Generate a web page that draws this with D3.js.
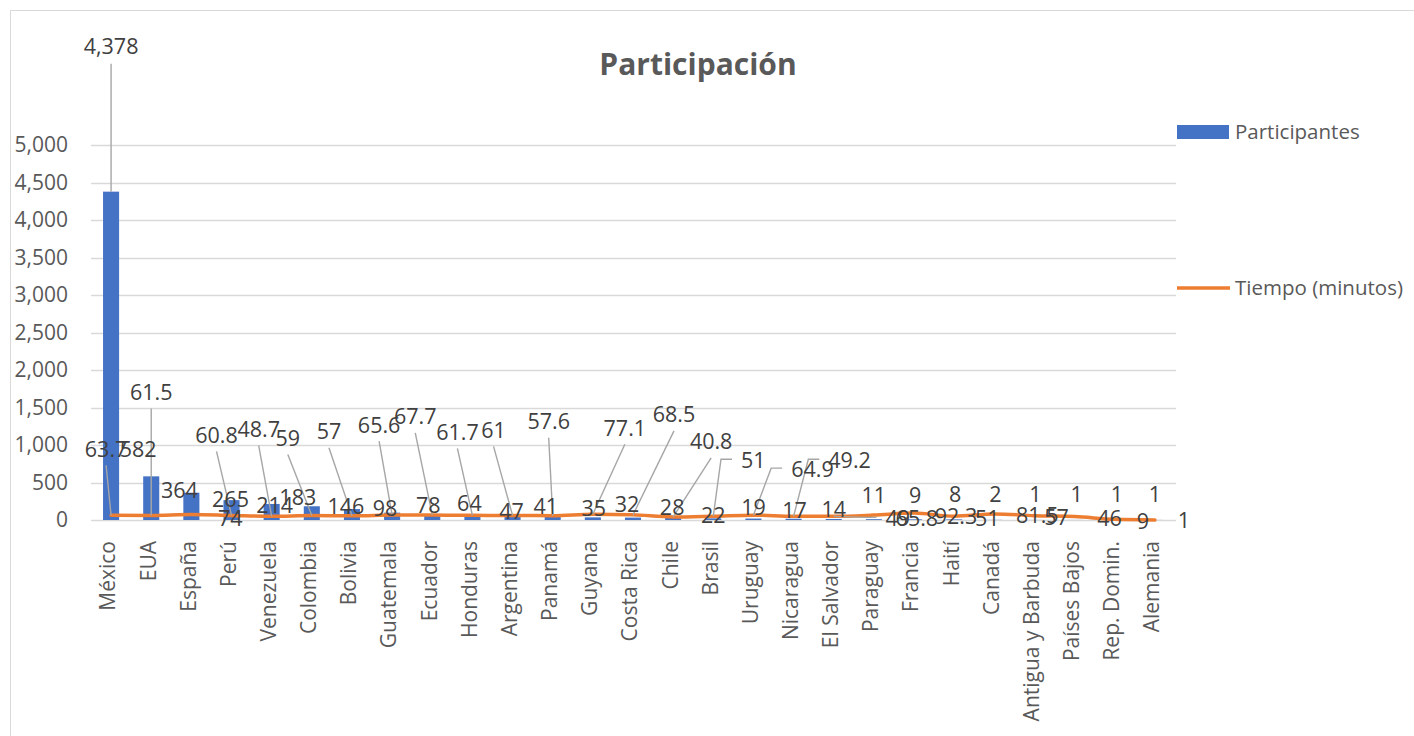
<!DOCTYPE html>
<html>
<head>
<meta charset="utf-8">
<script src="https://cdn.jsdelivr.net/npm/d3@7"></script>
<style>
  body { margin: 0; background: #fff; }
  svg text { font-family: "Open Sans", "Noto Sans", sans-serif; }
</style>
</head>
<body>
<div class="container"></div>
<script>
var categories = ["México", "EUA", "España", "Perú", "Venezuela", "Colombia", "Bolivia",
    "Guatemala", "Ecuador", "Honduras", "Argentina", "Panamá", "Guyana", "Costa Rica",
    "Chile", "Brasil", "Uruguay", "Nicaragua", "El Salvador", "Paraguay", "Francia",
    "Haití", "Canadá", "Antigua y Barbuda", "Países Bajos", "Rep. Domin.", "Alemania"];
var participantes = [4378, 582, 364, 265, 214, 183, 146, 98, 78, 64, 47, 41, 35, 32,
    28, 22, 19, 17, 14, 11, 9, 8, 2, 1, 1, 1, 1];
var tiempo = [63.7, 61.5, 74, 60.8, 48.7, 59, 57, 65.6, 67.7, 61.7, 61, 57.6, 77.1, 68.5,
    40.8, 51, 64.9, 49.2, 49, 65.8, 92.3, 51, 81.5, 57, 46, 9, 1];
var yTicks = [0, 500, 1000, 1500, 2000, 2500, 3000, 3500, 4000, 4500, 5000];
var seriesNames = ["Participantes", "Tiempo (minutos)"];

// label nudges (pixels from the data point), as the labels were dragged in the original
var barLabelShift = [[0, -145], [-13, -27], [-12, -2], [-1, -1], [3, 2], [-14, -9], [-6, -3],
    [-7, -4], [-4, -9], [-3, -12], [-1, -5], [-7, -10], [1, -9], [-6, -13], [-1, -10], [0, -3],
    [0, -11], [1, -8], [0, -9], [0, -24], [1, -24], [1, -25], [1, -25], [1, -25], [2, -25],
    [2, -25], [0, -25]];
// [dx, dy, leader]  s = straight leader, e = elbow leader
var lineLabelShift = [[-5, -66, "s"], [0, -123, "s"], [39, 4], [-15, -80, "s"], [-13, -87, "s"],
    [-24, -77, "s"], [-23, -84, "s"], [-13, -90, "s"], [-17, -98, "s"], [-15, -83, "s"],
    [-19, -85, "s"], [-4, -94, "s"], [32, -86, "s"], [41, -100, "s"], [38, -75, "s"],
    [40, -56, "e"], [59, -46, "e"], [56, -56, "e"], [64, 2, "e"], [43, 3], [42, 3], [33, 2],
    [43, 2], [22, 2], [35, 2], [28, 2], [29, 1]];

var W = 1414, H = 736;
var svg = d3.select(".container").append("svg")
    .attr("width", W)
    .attr("height", H);

svg.append("rect")
    .attr("x", 10.5).attr("y", 10.5)
    .attr("width", 1420).attr("height", 740)
    .attr("fill", "#fff")
    .attr("stroke", "#d9d9d9");

svg.append("text")
    .attr("x", 698).attr("y", 64)
    .attr("dy", "0.35em")
    .attr("text-anchor", "middle")
    .style("font-size", "30px")
    .style("font-weight", "bold")
    .attr("fill", "#595959")
    .text("Participación");

var x = d3.scaleBand()
    .domain(categories)
    .range([91, 1175])
    .paddingInner(0.6)
    .paddingOuter(0.3);

var y = d3.scaleLinear()
    .domain([0, 5000])
    .range([520, 145]);

var cx = function (i) { return x(categories[i]) + x.bandwidth() / 2; };

// gridlines
svg.append("g")
    .selectAll("line")
    .data(yTicks)
    .enter().append("line")
    .attr("x1", 91).attr("x2", 1176)
    .attr("y1", function (d) { return Math.round(y(d)) + 0.5; })
    .attr("y2", function (d) { return Math.round(y(d)) + 0.5; })
    .attr("stroke", "#d9d9d9")
    .attr("stroke-width", 1.3);

// y axis labels
svg.append("g")
    .selectAll("text")
    .data(yTicks)
    .enter().append("text")
    .attr("x", 68)
    .attr("y", function (d) { return y(d); })
    .attr("dy", "0.35em")
    .attr("text-anchor", "end")
    .attr("fill", "#595959")
    .style("font-size", "21px")
    .text(d3.format(","));

// x axis labels
svg.append("g")
    .selectAll("text")
    .data(categories)
    .enter().append("text")
    .attr("transform", function (d, i) { return "translate(" + (cx(i) - 3) + ",541) rotate(-90)"; })
    .attr("dy", "0.35em")
    .attr("text-anchor", "end")
    .attr("fill", "#595959")
    .style("font-size", "21px")
    .text(function (d) { return d; });

// bars
svg.append("g")
    .selectAll("rect")
    .data(participantes)
    .enter().append("rect")
    .attr("x", function (d, i) { return x(categories[i]); })
    .attr("width", x.bandwidth())
    .attr("y", function (d) { return y(d); })
    .attr("height", function (d) { return y(0) - y(d); })
    .attr("fill", "#4472c4");

// line
var line = d3.line()
    .x(function (d, i) { return cx(i); })
    .y(function (d) { return y(d); })
    .curve(d3.curveMonotoneX);

svg.append("path")
    .datum(tiempo)
    .attr("d", line)
    .attr("fill", "none")
    .attr("stroke", "#ed7d31")
    .attr("stroke-width", 3.5)
    .attr("stroke-linecap", "round");

var leaders = svg.append("g")
    .attr("stroke", "#a6a6a6")
    .attr("stroke-width", 1.4)
    .attr("fill", "none");
var labels = svg.append("g")
    .attr("fill", "#404040")
    .style("font-size", "21.5px");

// bar labels
participantes.forEach(function (v, i) {
    var px = cx(i), py = y(v);
    var lx = px + barLabelShift[i][0], ly = py + barLabelShift[i][1];
    labels.append("text")
        .attr("x", lx).attr("y", ly)
        .attr("dy", "0.35em")
        .attr("text-anchor", "middle")
        .text(d3.format(",")(v));
    if (i === 0) {
        leaders.append("line")
            .attr("x1", lx).attr("y1", ly + 17)
            .attr("x2", px).attr("y2", py);
    }
});

// line labels
tiempo.forEach(function (v, i) {
    var px = cx(i), py = y(v);
    var s = lineLabelShift[i];
    var lx = px + s[0], ly = py + s[1];
    var t = labels.append("text")
        .attr("x", lx).attr("y", ly)
        .attr("dy", "0.35em")
        .attr("text-anchor", "middle")
        .text(v);
    var w = t.node().getComputedTextLength();
    if (s[2] === "s") {
        leaders.append("line")
            .attr("x1", lx).attr("y1", ly + 16)
            .attr("x2", px).attr("y2", py);
    } else if (s[2] === "e") {
        var sx = lx - w / 2 - 9;
        leaders.append("polyline")
            .attr("points", [[sx, ly - 1], [sx - 11, ly - 1], [px, py]].join(" "));
    }
});

// legend
var legend = svg.append("g").style("font-size", "20.5px").attr("fill", "#595959");
legend.append("rect")
    .attr("x", 1177).attr("y", 125)
    .attr("width", 52).attr("height", 14)
    .attr("fill", "#4472c4");
legend.append("text")
    .attr("x", 1235).attr("y", 132)
    .attr("dy", "0.35em")
    .text(seriesNames[0]);
legend.append("line")
    .attr("x1", 1177).attr("x2", 1230)
    .attr("y1", 288).attr("y2", 288)
    .attr("stroke", "#ed7d31")
    .attr("stroke-width", 3.5);
legend.append("text")
    .attr("x", 1235).attr("y", 288)
    .attr("dy", "0.35em")
    .text(seriesNames[1]);
</script>
</body>
</html>
